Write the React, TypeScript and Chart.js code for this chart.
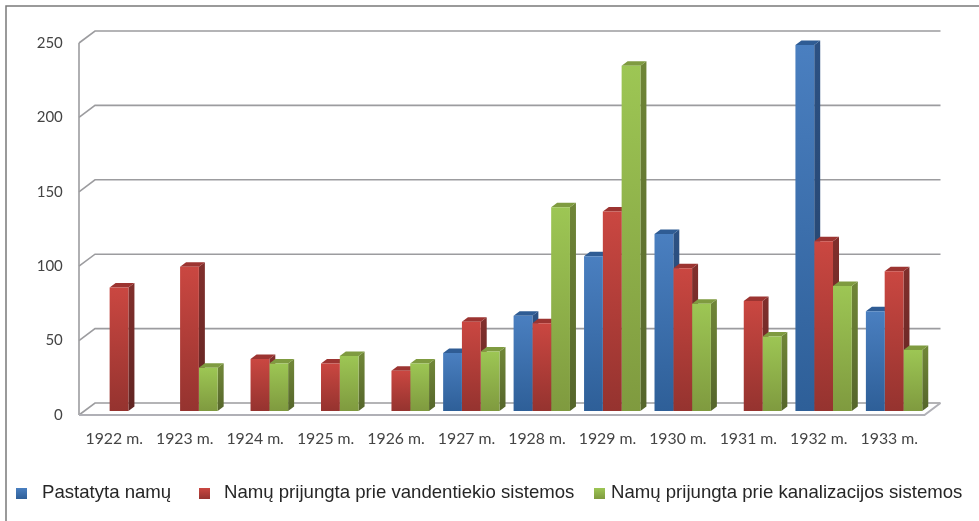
import React, { useEffect, useRef } from "react";
import { Chart, registerables } from "chart.js";

Chart.register(...registerables);

const years = ["1922 m.", "1923 m.", "1924 m.", "1925 m.", "1926 m.", "1927 m.", "1928 m.", "1929 m.", "1930 m.", "1931 m.", "1932 m.", "1933 m."];
const built = [null, null, null, null, null, 39, 64, 104, 119, null, 246, 67];
const water = [83, 97, 35, 32, 27, 60, 59, 134, 96, 74, 114, 94];
const sewer = [null, 29, 32, 37, 32, 40, 137, 232, 72, 50, 84, 41];
const seriesNames = ["Pastatyta namų", "Namų prijungta prie vandentiekio sistemos", "Namų prijungta prie kanalizacijos sistemos"];

const palette = [
  { light: "#4a7fc0", dark: "#2e5f98", side: "#2c5183", sideDark: "#24426b", top: "#2f5c94" },
  { light: "#ca4741", dark: "#95332f", side: "#802f2c", sideDark: "#602422", top: "#9c3431" },
  { light: "#9dc654", dark: "#7f9a3f", side: "#6f8537", sideDark: "#55652b", top: "#7f9b40" },
];
const legendBoxX = [16, 199, 594];
const legendTextX = [42, 224, 611];
const depthX = 6;
const depthY = 4.5;
const gridBackX = 16;
const gridBackY = 12;
const frontShiftX = -4.8;
const frontShiftY = 4;

const frame3d = {
  id: "frame3d",
  beforeDraw(chart: any) {
    const { ctx } = chart;
    ctx.save();
    ctx.fillStyle = "#ffffff";
    ctx.fillRect(0, 0, chart.width, chart.height);
    ctx.strokeStyle = "#7a7a7a";
    ctx.lineWidth = 1.5;
    ctx.beginPath();
    ctx.moveTo(979, 6);
    ctx.lineTo(6, 6);
    ctx.lineTo(6, 521);
    ctx.stroke();
    ctx.restore();
  },
  beforeDatasetsDraw(chart: any) {
    const { ctx, chartArea, scales } = chart;
    const left = chartArea.left + frontShiftX;
    const right = chartArea.right + frontShiftX;
    const yScale = scales.y;
    ctx.save();
    ctx.lineWidth = 1.6;
    ctx.strokeStyle = "#9c9c9f";
    yScale.ticks.forEach((t: any) => {
      const y = yScale.getPixelForValue(t.value) + frontShiftY;
      ctx.beginPath();
      ctx.moveTo(left, y);
      ctx.lineTo(left + gridBackX, y - gridBackY);
      ctx.lineTo(right + gridBackX, y - gridBackY);
      ctx.stroke();
    });
    const zero = yScale.getPixelForValue(0) + frontShiftY;
    const topY = yScale.getPixelForValue(250) + frontShiftY;
    ctx.beginPath();
    ctx.moveTo(left, topY);
    ctx.lineTo(left, zero);
    ctx.stroke();
    ctx.strokeStyle = "#b0b0b6";
    ctx.lineWidth = 2;
    ctx.beginPath();
    ctx.moveTo(left, zero);
    ctx.lineTo(right, zero);
    ctx.lineTo(right + gridBackX, zero - gridBackY);
    ctx.stroke();

    chart.data.labels.forEach((_: string, i: number) => {
      chart.data.datasets.forEach((ds: any, d: number) => {
        if (ds.data[i] == null) return;
        const bar = chart.getDatasetMeta(d).data[i];
        const p = bar.getProps(["x", "y", "base", "width"], true);
        if (![p.x, p.y, p.base, p.width].every(Number.isFinite)) return;
        const l = p.x - p.width / 2;
        const r = p.x + p.width / 2;
        const c = palette[d];
        const g = ctx.createLinearGradient(0, p.y, 0, p.base);
        g.addColorStop(0, c.side);
        g.addColorStop(1, c.sideDark);
        ctx.fillStyle = g;
        ctx.beginPath();
        ctx.moveTo(r, p.y);
        ctx.lineTo(r + depthX, p.y - depthY);
        ctx.lineTo(r + depthX, p.base - depthY);
        ctx.lineTo(r, p.base);
        ctx.closePath();
        ctx.fill();
        ctx.fillStyle = c.top;
        ctx.beginPath();
        ctx.moveTo(l, p.y);
        ctx.lineTo(l + depthX, p.y - depthY);
        ctx.lineTo(r + depthX, p.y - depthY);
        ctx.lineTo(r, p.y);
        ctx.closePath();
        ctx.fill();
      });
    });
    ctx.restore();
  },
  afterDraw(chart: any) {
    const { ctx } = chart;
    ctx.save();
    ctx.font = "18.6px 'Liberation Sans'";
    ctx.textBaseline = "middle";
    ctx.textAlign = "left";
    chart.data.datasets.forEach((ds: any, d: number) => {
      const g = ctx.createLinearGradient(0, 488, 0, 499);
      g.addColorStop(0, palette[d].light);
      g.addColorStop(1, palette[d].dark);
      ctx.fillStyle = g;
      ctx.fillRect(legendBoxX[d], 488, 11, 11);
      ctx.fillStyle = "#262626";
      ctx.fillText(ds.label, legendTextX[d], 493);
    });
    ctx.restore();
  },
};

function fill(index: number) {
  return (context: any) => {
    const { chart, raw } = context;
    const yScale = chart.scales.y;
    if (raw == null || !yScale) return palette[index].light;
    const y0 = yScale.getPixelForValue(raw);
    const y1 = yScale.getPixelForValue(0);
    if (!Number.isFinite(y0) || !Number.isFinite(y1)) return palette[index].light;
    const g = chart.ctx.createLinearGradient(0, y0, 0, y1);
    g.addColorStop(0, palette[index].light);
    g.addColorStop(1, palette[index].dark);
    return g;
  };
}

export default function App() {
  const ref = useRef<HTMLCanvasElement>(null);
  useEffect(() => {
    document.body.style.margin = "0";
    const chart = new Chart(ref.current as HTMLCanvasElement, {
      type: "bar",
      data: {
        labels: years,
        datasets: [
          { label: seriesNames[0], data: built, backgroundColor: fill(0) },
          { label: seriesNames[1], data: water, backgroundColor: fill(1) },
          { label: seriesNames[2], data: sewer, backgroundColor: fill(2) },
        ],
      } as any,
      plugins: [frame3d],
      options: {
        responsive: false,
        animation: false,
        layout: { padding: { top: 39, right: 49.7, bottom: 0, left: 0 } },
        datasets: { bar: { categoryPercentage: 0.8, barPercentage: 1 } },
        plugins: { legend: { display: false }, tooltip: { enabled: false } },
        scales: {
          x: {
            grid: { display: false },
            border: { display: false },
            afterFit: (s: any) => { s.height = 110; },
            ticks: {
              autoSkip: false,
              maxRotation: 0,
              padding: 10.5,
              labelOffset: frontShiftX,
              color: "#444444",
              font: { family: "Lato", size: 15.8 },
            },
          },
          y: {
            min: 0,
            max: 250,
            grid: { display: false },
            border: { display: false },
            afterFit: (s: any) => { s.width = 83.8; },
            ticks: {
              stepSize: 50,
              padding: 13,
              labelOffset: frontShiftY,
              color: "#444444",
              font: { family: "Lato", size: 15 },
            },
          },
        },
      } as any,
    });
    return () => chart.destroy();
  }, []);
  return <canvas ref={ref} width={979} height={521} style={{ display: "block" }} />;
}
